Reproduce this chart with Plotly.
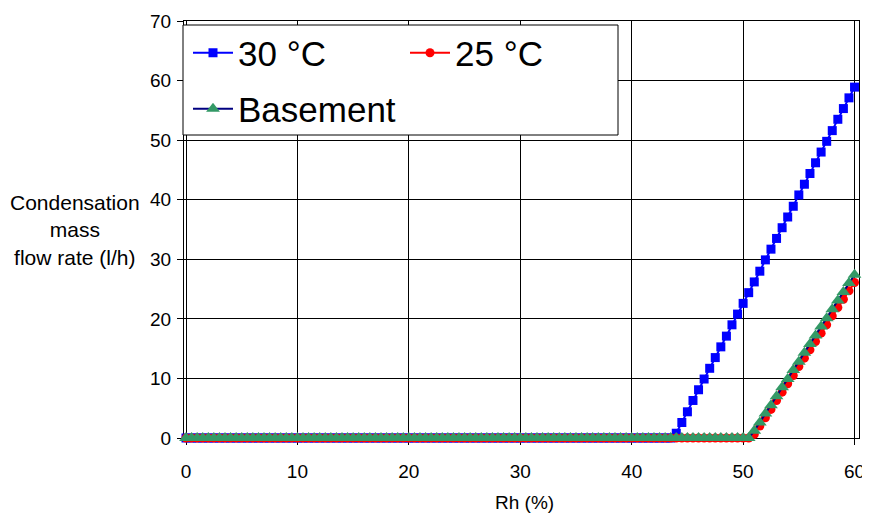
import plotly.graph_objects as go

rh = [
    0, 0.5, 1, 1.5, 2, 2.5, 3, 3.5, 4, 4.5, 5, 5.5, 6, 6.5, 7, 7.5, 8, 8.5, 9, 9.5,
    10, 10.5, 11, 11.5, 12, 12.5, 13, 13.5, 14, 14.5, 15, 15.5, 16, 16.5, 17, 17.5, 18, 18.5, 19, 19.5,
    20, 20.5, 21, 21.5, 22, 22.5, 23, 23.5, 24, 24.5, 25, 25.5, 26, 26.5, 27, 27.5, 28, 28.5, 29, 29.5,
    30, 30.5, 31, 31.5, 32, 32.5, 33, 33.5, 34, 34.5, 35, 35.5, 36, 36.5, 37, 37.5, 38, 38.5, 39, 39.5,
    40, 40.5, 41, 41.5, 42, 42.5, 43, 43.5, 44, 44.5, 45, 45.5, 46, 46.5, 47, 47.5, 48, 48.5, 49, 49.5,
    50, 50.5, 51, 51.5, 52, 52.5, 53, 53.5, 54, 54.5, 55, 55.5, 56, 56.5, 57, 57.5, 58, 58.5, 59, 59.5,
    60,
]

flow_30c = [
    0, 0, 0, 0, 0, 0, 0, 0, 0, 0, 0, 0, 0, 0, 0, 0, 0, 0, 0, 0,
    0, 0, 0, 0, 0, 0, 0, 0, 0, 0, 0, 0, 0, 0, 0, 0, 0, 0, 0, 0,
    0, 0, 0, 0, 0, 0, 0, 0, 0, 0, 0, 0, 0, 0, 0, 0, 0, 0, 0, 0,
    0, 0, 0, 0, 0, 0, 0, 0, 0, 0, 0, 0, 0, 0, 0, 0, 0, 0, 0, 0,
    0, 0, 0, 0, 0, 0, 0, 0,
    0.8, 2.6, 4.4, 6.3, 8.1, 9.9, 11.7, 13.5, 15.3, 17.1, 19.0, 20.8,
    22.6, 24.4, 26.2, 28.0, 29.9, 31.7, 33.5, 35.3, 37.1, 38.9, 40.8,
    42.6, 44.4, 46.2, 48.0, 49.8, 51.6, 53.5, 55.3, 57.1, 58.9,
]

flow_25c = [
    0, 0, 0, 0, 0, 0, 0, 0, 0, 0, 0, 0, 0, 0, 0, 0, 0, 0, 0, 0,
    0, 0, 0, 0, 0, 0, 0, 0, 0, 0, 0, 0, 0, 0, 0, 0, 0, 0, 0, 0,
    0, 0, 0, 0, 0, 0, 0, 0, 0, 0, 0, 0, 0, 0, 0, 0, 0, 0, 0, 0,
    0, 0, 0, 0, 0, 0, 0, 0, 0, 0, 0, 0, 0, 0, 0, 0, 0, 0, 0, 0,
    0, 0, 0, 0, 0, 0, 0, 0, 0, 0, 0, 0, 0, 0, 0, 0, 0, 0, 0, 0,
    0, 0,
    0.6, 2.0, 3.4, 4.8, 6.3, 7.7, 9.1, 10.5, 12.0, 13.4,
    14.8, 16.2, 17.6, 19.0, 20.5, 21.9, 23.3, 24.7, 26.1,
]

flow_basement = [
    0, 0, 0, 0, 0, 0, 0, 0, 0, 0, 0, 0, 0, 0, 0, 0, 0, 0, 0, 0,
    0, 0, 0, 0, 0, 0, 0, 0, 0, 0, 0, 0, 0, 0, 0, 0, 0, 0, 0, 0,
    0, 0, 0, 0, 0, 0, 0, 0, 0, 0, 0, 0, 0, 0, 0, 0, 0, 0, 0, 0,
    0, 0, 0, 0, 0, 0, 0, 0, 0, 0, 0, 0, 0, 0, 0, 0, 0, 0, 0, 0,
    0, 0, 0, 0, 0, 0, 0, 0, 0, 0, 0, 0, 0, 0, 0, 0, 0, 0, 0, 0,
    0, 0,
    1.2, 2.6, 4.1, 5.5, 7.0, 8.5, 9.9, 11.4, 12.8, 14.3,
    15.8, 17.2, 18.7, 20.1, 21.6, 23.1, 24.5, 26.0, 27.4,
]

x_ticks = [0, 10, 20, 30, 40, 50, 60]
y_ticks = [0, 10, 20, 30, 40, 50, 60, 70]
series_names = ["30 °C", "25 °C", "Basement"]

FONT = "Liberation Sans, Arial, sans-serif"

fig = go.Figure()
fig.add_trace(go.Scatter(
    x=rh, y=flow_30c, name=series_names[0], mode="lines+markers",
    line=dict(color="#0000FF", width=2),
    marker=dict(symbol="square", size=9, color="#0000FF"),
    cliponaxis=False, legend="legend",
))
fig.add_trace(go.Scatter(
    x=rh, y=flow_25c, name=series_names[1], mode="lines+markers",
    line=dict(color="#FF0000", width=2),
    marker=dict(symbol="circle", size=9, color="#FF0000"),
    cliponaxis=False, legend="legend",
))
fig.add_trace(go.Scatter(
    x=rh, y=flow_basement, name=series_names[2], mode="lines+markers",
    line=dict(color="#000080", width=2),
    marker=dict(symbol="triangle-up", size=12, color="#339966"),
    cliponaxis=False, legend="legend2",
))

# page body has an 8px margin, so the figure is drawn 8px smaller
plot_w = 675
plot_h = 417


def px_x(p):
    return (p - 184) / plot_w


def px_y(p):
    return (438 - p) / plot_h


legend_common = dict(
    orientation="h", xanchor="left", yanchor="middle",
    bgcolor="rgba(0,0,0,0)", borderwidth=0,
    font=dict(family=FONT, size=35, color="black"),
    itemwidth=40, entrywidth=162, entrywidthmode="pixels",
)

fig.update_layout(
    width=862, height=506,
    margin=dict(l=176, r=11, t=13, b=76, autoexpand=False),
    paper_bgcolor="white", plot_bgcolor="white",
    font=dict(family=FONT, size=19, color="black"),
    showlegend=True,
    legend=dict(x=px_x(188), y=px_y(53), **legend_common),
    legend2=dict(x=px_x(188), y=px_y(109), **legend_common),
    xaxis=dict(
        range=[-0.18, 60.4], tickvals=x_ticks, ticks="outside", ticklen=6,
        tickcolor="black", showline=True, linecolor="black", linewidth=1,
        mirror=True, showgrid=True, gridcolor="black", gridwidth=1,
        zeroline=False, tickfont=dict(size=19), ticklabelstandoff=10,
        automargin=False, layer="below traces",
    ),
    yaxis=dict(
        range=[0, 70], tickvals=y_ticks, ticks="outside", ticklen=6,
        tickcolor="black", showline=True, linecolor="black", linewidth=1,
        mirror=True, showgrid=True, gridcolor="black", gridwidth=1,
        zeroline=False, tickfont=dict(size=19), ticklabelstandoff=2,
        automargin=False, layer="below traces",
    ),
    shapes=[dict(
        type="rect", xref="paper", yref="paper",
        x0=px_x(183), x1=px_x(618), y0=px_y(135), y1=px_y(25),
        line=dict(color="black", width=1), fillcolor="white", layer="above",
    )],
    annotations=[
        dict(
            text="Condensation<br>mass<br>flow rate (l/h)",
            xref="paper", yref="paper", x=px_x(75), y=px_y(230),
            xanchor="center", yanchor="middle", showarrow=False, align="center",
            font=dict(family=FONT, size=21, color="black"),
        ),
        dict(
            text="Rh (%)",
            xref="paper", yref="paper", x=px_x(524), y=px_y(503),
            xanchor="center", yanchor="middle", showarrow=False,
            font=dict(family=FONT, size=19, color="black"),
        ),
    ],
)

fig.write_html("out.html")
